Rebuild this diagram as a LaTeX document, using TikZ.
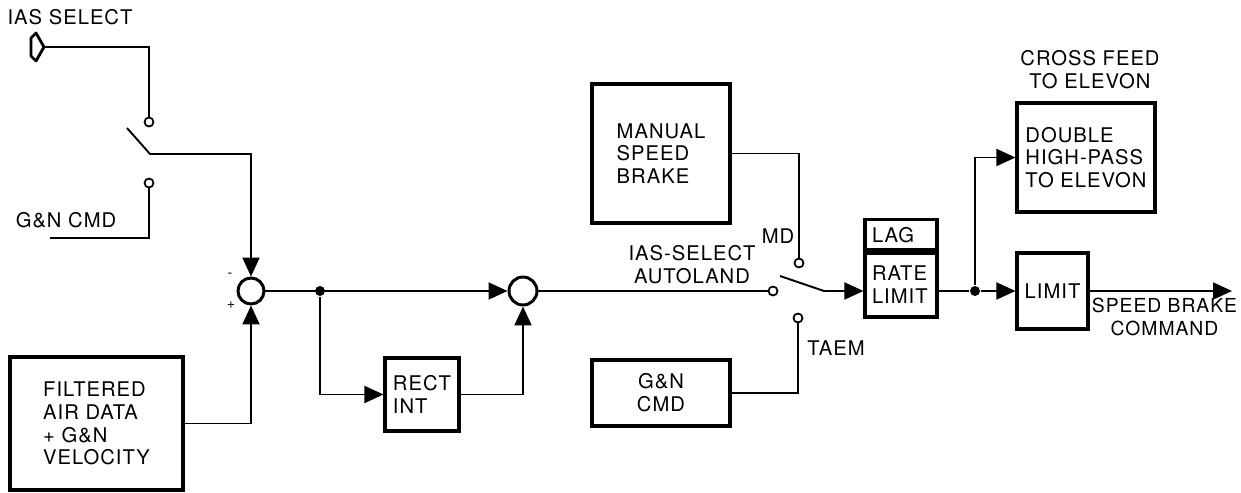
\documentclass[tikz,border=0pt]{standalone}
\usepackage{fontspec}
\setmainfont{TeX Gyre Heros}[LetterSpace=5]
\usetikzlibrary{arrows.meta,positioning,calc}

\begin{document}
\begin{tikzpicture}[
  x=0.02cm,y=-0.02cm,
  font=\fontsize{11.5}{13}\selectfont,
  every path/.style={line width=1.1pt},
  sig/.style={-{Triangle[length=3.8mm,width=3.4mm]}},
  block/.style={draw,line width=1.8pt,inner sep=0pt,align=left},
  sumnode/.style={draw,circle,line width=1.7pt,inner sep=0pt},
  contact/.style={draw,circle,fill=white,minimum size=0.18cm,inner sep=0pt,line width=1pt},
  dotnode/.style={circle,fill,minimum size=0.2cm,inner sep=0pt},
  lbl/.style={align=center,inner sep=0pt}
]
\useasboundingbox (0,0) rectangle (1241,493);

% blocks
\node[block,minimum width=3.46cm,minimum height=2.66cm] (filt) at (96.5,423.5)
  {FILTERED\\AIR DATA\\+ G\&N\\VELOCITY};
\node[block,minimum width=1.48cm,minimum height=1.46cm] (rect) at (422,394.5) {RECT\\INT};
\node[block,minimum width=2.76cm,minimum height=2.78cm] (manual) at (661,153.5)
  {MANUAL\\SPEED\\BRAKE};
\node[block,minimum width=2.76cm,minimum height=1.32cm,align=center] (gncmd) at (661,393)
  {G\&N\\CMD};
\node[block,minimum width=1.44cm,minimum height=1.28cm,text width=1.16cm] (rate) at (901,285)
  {RATE\\LIMIT};
\node[block,minimum width=1.44cm,minimum height=0.6cm,text width=1.16cm,anchor=south] (lag)
  at (rate.north) {LAG};
\node[block,minimum width=2.76cm,minimum height=2.18cm] (hipass) at (1086,157.5)
  {DOUBLE\\HIGH-PASS\\TO ELEVON};
\node[block,minimum width=1.42cm,minimum height=1.52cm] (limit) at (1052.5,291) {LIMIT};

% summing points and branch dots
\node[sumnode,minimum size=0.52cm] (sum1) at (251,291) {};
\node[sumnode,minimum size=0.56cm] (sum2) at (523,291) {};
\node[dotnode] (br1) at (320,291) {};
\node[dotnode] (br2) at (975,291) {};

% switch contacts
\node[contact] (c1a) at (149,122) {};
\node[contact] (c1b) at (149,183) {};
\node[contact] (c2in) at (773,291) {};
\node[contact] (c2md) at (799,263) {};
\node[contact] (c2ta) at (798,318) {};

\coordinate (ias) at (44,47);
\coordinate (gnend) at (50,238);
\coordinate (blade1) at (127,128);
\coordinate (pole1) at (150,154);
\coordinate (blade2) at (780,276);
\coordinate (pole2) at (824,291);
\coordinate (cmdout) at (1232,291);

% labels
\node[lbl] (iaslbl) at (70,17) {IAS SELECT};
\node[lbl] (gnlbl) at (66,220) {G\&N CMD};
\node[lbl,font=\footnotesize] (minus) at (230,275) {-};
\node[lbl,font=\footnotesize] (plus) at (231,305) {+};
\node[lbl] (autolbl) at (692,265) {IAS-SELECT\\AUTOLAND};
\node[lbl] (mdlbl) at (778,236) {MD};
\node[lbl] (taemlbl) at (836,348) {TAEM};
\node[lbl] (xfeed) at (1090,70) {CROSS FEED\\TO ELEVON};
\node[lbl,anchor=west,font=\fontsize{11}{13}\selectfont] (sbcmd) at (1091,317)
  {SPEED BRAKE\\COMMAND};

% input symbol
\draw[line width=1.6pt,line join=round] (36,33) -- (31,38) -- (31,56) -- (36,61) -- (ias) -- cycle;

% connectors
\draw (ias) -| (c1a);
\draw[sig] (blade1) -- (pole1) -| (sum1);
\draw (c1b) |- (gnend);
\draw[sig] (filt) -| (sum1);
\draw[sig] (sum1) -- (sum2);
\draw[sig] (br1) |- (rect);
\draw[sig] (rect) -| (sum2);
\draw (sum2) -- (c2in);
\draw (manual) -| (c2md);
\draw (gncmd) -| (c2ta);
\draw[sig] (blade2) -- (pole2) -- (rate.west |- pole2);
\draw (rate.east |- br2) -- (br2);
\draw[sig] (br2) -- (limit);
\draw[sig] (br2) |- (hipass);
\draw[sig] (limit) -- (cmdout);
\end{tikzpicture}
\end{document}
